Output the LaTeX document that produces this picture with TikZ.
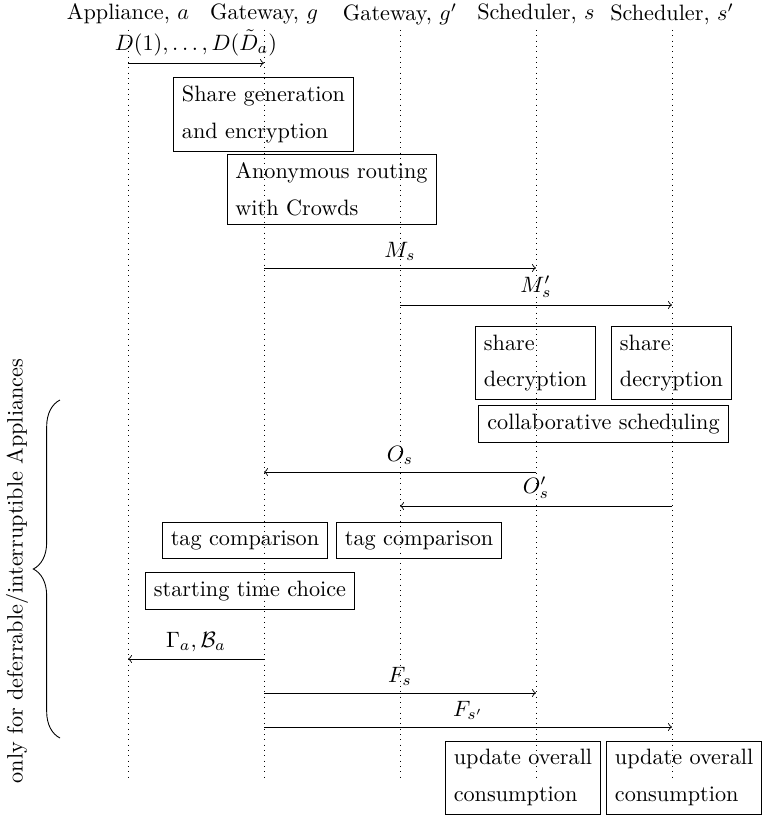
\documentclass[tikz,border=0pt]{standalone}
\usetikzlibrary{decorations.pathreplacing}
\begin{document}
\begin{tikzpicture}[x=0.45pt,y=-0.45pt,
  box/.style={draw, align=left, inner sep=3.8pt},
  life/.style={dotted},
  msg/.style={->},
  lbl/.style={above, inner sep=3pt}]
\useasboundingbox (0,0) rectangle (762,818);
% headers
\node (ha) at (128,14) {Appliance, $a$};
\node (hg) at (264,14) {Gateway, $g$};
\node (hgp) at (400,14) {Gateway, $g'$};
\node (hs) at (536,14) {Scheduler, $s$};
\node (hsp) at (672,14) {Scheduler, $s'$};
% lifelines
\foreach \n/\x in {a/128,g/264,gp/400,s/536,sp/672}{
  \coordinate (\n top) at (\x,30);
  \coordinate (\n bot) at (\x,777);
  \draw[life] (\n top) -- (\n bot);
}
% message endpoints
\coordinate (d1) at (128,63); \coordinate (d2) at (264,63);
\coordinate (ms1) at (264,268); \coordinate (ms2) at (536,268);
\coordinate (msp1) at (400,305); \coordinate (msp2) at (672,305);
\coordinate (os1) at (536,472); \coordinate (os2) at (264,472);
\coordinate (osp1) at (672,506); \coordinate (osp2) at (400,506);
\coordinate (ga1) at (264,659); \coordinate (ga2) at (128,659);
\coordinate (fs1) at (264,693); \coordinate (fs2) at (536,693);
\coordinate (fsp1) at (264,727); \coordinate (fsp2) at (672,727);
% messages
\draw[msg] (d1) -- node[lbl] {$D(1),\ldots,D(\tilde{D}_a)$} (d2);
\draw[msg] (ms1) -- node[lbl] {$M_s$} (ms2);
\draw[msg] (msp1) -- node[lbl] {$M'_s$} (msp2);
\draw[msg] (os1) -- node[lbl] {$O_s$} (os2);
\draw[msg] (osp1) -- node[lbl] {$O'_s$} (osp2);
\draw[msg] (ga1) -- node[lbl] {$\Gamma_a,\mathcal{B}_a$} (ga2);
\draw[msg] (fs1) -- node[lbl] {$F_s$} (fs2);
\draw[msg] (fsp1) -- node[lbl] {$F_{s'}$} (fsp2);
% boxes
\node[box] (sg) at (263.5,114.5) {Share generation\\[4.4pt]and encryption};
\node[box] (ar) at (331.5,189.3) {Anonymous routing\\[4.4pt]with Crowds};
\node[box] (sd1) at (535.5,363) {share\\[4.4pt]decryption};
\node[box] (sd2) at (671.5,363) {share\\[4.4pt]decryption};
\node[box] (cs) at (603.5,424) {collaborative scheduling};
\node[box, anchor=east] (tc1) at (328,540) {tag comparison};
\node[box, anchor=west] (tc2) at (336,540) {tag comparison};
\node[box] (st) at (250,591) {starting time choice};
\node[box, anchor=east] (uc1) at (601,777.5) {update overall\\[4.4pt]consumption};
\node[box, anchor=west] (uc2) at (606,777.5) {update overall\\[4.4pt]consumption};
% brace
\coordinate (br1) at (60,738);
\coordinate (br2) at (60,400);
\draw[decorate, decoration={brace, amplitude=12pt}] (br1) -- (br2);
\node[rotate=90] (note) at (17,571) {only for deferrable/interruptible Appliances};
\end{tikzpicture}
\end{document}
